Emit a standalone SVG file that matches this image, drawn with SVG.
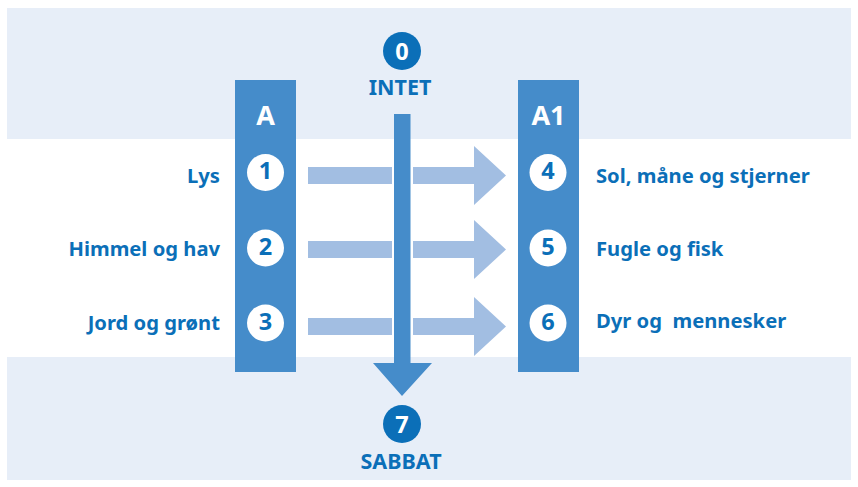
<svg xmlns="http://www.w3.org/2000/svg" width="858" height="487" viewBox="0 0 858 487">
<style>
.lbl{font-family:"Noto Sans","Open Sans",sans-serif;font-weight:bold;font-size:20.2px;fill:#0b6fb8}
.hd{font-family:"Noto Sans","Open Sans",sans-serif;font-weight:bold;font-size:27px;fill:#ffffff;text-anchor:middle}
.num{font-family:"Noto Sans","Open Sans",sans-serif;font-weight:bold;font-size:23.5px;fill:#0b6fb8;text-anchor:middle}
.numw{font-family:"Noto Sans","Open Sans",sans-serif;font-weight:bold;font-size:23.5px;fill:#ffffff;text-anchor:middle}
.cap{font-family:"Noto Sans","Open Sans",sans-serif;font-weight:bold;font-size:21.5px;fill:#0b6fb8;text-anchor:middle}
.col{fill:#458cca}
.wc{fill:#ffffff}
.dc{fill:#0b6fb8}
.ha{fill:#a2bee2}
</style>
<rect x="7" y="8" width="844" height="472" fill="#e7eef8"/>
<rect x="7" y="139" width="844" height="218" fill="#ffffff"/>
<g id="colA">
<rect class="col" x="235" y="80" width="61" height="292"/>
<text class="hd" x="265.5" y="125">A</text>
</g>
<g id="colA1">
<rect class="col" x="518" y="80" width="61" height="292"/>
<text class="hd" x="548.5" y="125">A1</text>
</g>
<g id="connectors">
<rect class="ha" x="308" y="167" width="84" height="17"/>
<polygon class="ha" points="413,167 474,167 474,146 506,175.5 474,205 474,184 413,184"/>
<rect class="ha" x="308" y="241" width="84" height="17"/>
<polygon class="ha" points="413,241 474,241 474,220 506,249.5 474,279 474,258 413,258"/>
<rect class="ha" x="308" y="318" width="84" height="17"/>
<polygon class="ha" points="413,318 474,318 474,297 506,326.5 474,356 474,335 413,335"/>
<polygon class="col" points="394,114 410.5,114 410.5,363 432,363 402,396 373,363 394,363"/>
</g>
<g id="n0">
<circle class="dc" cx="402" cy="51" r="19"/>
<text class="numw" x="402" y="59.5">0</text>
<text class="cap" x="400" y="95">INTET</text>
</g>
<g id="n7">
<circle class="dc" cx="402" cy="424" r="19"/>
<text class="numw" x="402" y="432.5">7</text>
<text class="cap" x="401" y="469">SABBAT</text>
</g>
<g id="n1">
<circle class="wc" cx="265.5" cy="172.5" r="18.5"/>
<text class="num" x="265.5" y="179">1</text>
<text class="lbl" x="220" y="183" text-anchor="end">Lys</text>
</g>
<g id="n2">
<circle class="wc" cx="265.5" cy="248" r="18.5"/>
<text class="num" x="265.5" y="254.5">2</text>
<text class="lbl" x="220" y="256" text-anchor="end">Himmel og hav</text>
</g>
<g id="n3">
<circle class="wc" cx="265.5" cy="323" r="18.5"/>
<text class="num" x="265.5" y="329.5">3</text>
<text class="lbl" x="220" y="330" text-anchor="end">Jord og grønt</text>
</g>
<g id="n4">
<circle class="wc" cx="548" cy="172.5" r="18.5"/>
<text class="num" x="548" y="179">4</text>
<text class="lbl" x="596" y="183">Sol, måne og stjerner</text>
</g>
<g id="n5">
<circle class="wc" cx="548" cy="248" r="18.5"/>
<text class="num" x="548" y="254.5">5</text>
<text class="lbl" x="596" y="256">Fugle og fisk</text>
</g>
<g id="n6">
<circle class="wc" cx="548" cy="323" r="18.5"/>
<text class="num" x="548" y="329.5">6</text>
<text class="lbl" x="596" y="328" xml:space="preserve">Dyr og  mennesker</text>
</g>
</svg>
